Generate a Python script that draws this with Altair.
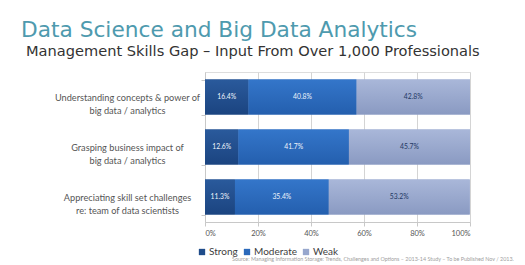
import altair as alt
import pandas as pd

# ---- data ----
categories = [
    "Understanding concepts & power of|big data / analytics",
    "Grasping business impact of|big data / analytics",
    "Appreciating skill set challenges|re: team of data scientists",
]
levels = ["Strong", "Moderate", "Weak"]
strong = [16.4, 12.6, 11.3]
moderate = [40.8, 41.7, 35.4]
weak = [42.8, 45.7, 53.2]
x_ticks = [0, 10, 20, 30, 40, 50, 60, 70, 80, 90, 100]
colors = ["#1f4c8a", "#2b69bb", "#97a7cd"]
gradient_stops = {
    "Strong": ("#2a5a9c", "#1b4480"),
    "Moderate": ("#3476ca", "#245fae"),
    "Weak": ("#a9b7d9", "#8a9ac2"),
}

title_text = "Data Science and Big Data Analytics"
subtitle_text = "Management Skills Gap \u2013 Input From Over 1,000 Professionals"
source_text = ("Source: Managing Information Storage: Trends, Challenges and Options \u2013 "
               "2013-14 Study \u2013 To be Published Nov / 2013.")

rows = []
for i, c in enumerate(categories):
    for j, (lev, vals) in enumerate(zip(levels, [strong, moderate, weak])):
        rows.append({"category": c, "level": lev, "order": j, "value": vals[i]})
df = pd.DataFrame(rows)

FONT = "Lato"

base = alt.Chart(df).transform_stack(
    stack="value", groupby=["category"], as_=["start", "end"],
    sort=[alt.SortField("order", order="ascending")],
).transform_calculate(
    mid="(datum.start + datum.end) / 2",
    label="format(datum.value, '.1f') + '%'",
)

y_enc = alt.Y(
    "category:N", sort=categories, title=None,
    scale=alt.Scale(paddingInner=0.3, paddingOuter=0.15),
    axis=alt.Axis(
        labelExpr="split(datum.label, '|')", labelFont=FONT, labelFontSize=9.2,
        labelColor="#555555", labelLineHeight=13, labelPadding=74,
        labelAlign="center",
        tickBand="extent", tickSize=4, tickColor="#c8c8c8",
        domainColor="#c8c8c8", grid=False,
    ),
)

x_scale = alt.Scale(domain=[0, 100], nice=False)

bars = base.mark_bar().encode(
    x=alt.X(
        "start:Q", title=None, scale=x_scale,
        axis=alt.Axis(
            values=x_ticks, labelExpr="datum.value + '%'", labelFont=FONT,
            labelFontSize=7.5, labelColor="#555555", tickColor="#c8c8c8",
            tickSize=4, domainColor="#c8c8c8", gridColor="#d4d4d4",
            labelPadding=3, labelOverlap=False,
        ),
    ),
    x2="end:Q",
    y=y_enc,
    color=alt.Color(
        "level:N", scale=alt.Scale(domain=levels, range=colors), title=None,
        legend=alt.Legend(
            orient="none", legendX=-8, legendY=175, direction="horizontal",
            symbolType="square", symbolSize=40, symbolStrokeWidth=0,
            labelFont=FONT, labelFontSize=10, labelColor="#404040",
            labelOffset=2, columnPadding=4, padding=0,
        ),
    ),
)

grad_layers = []
for lev in levels:
    top, bottom = gradient_stops[lev]
    grad_layers.append(
        base.transform_filter(alt.datum.level == lev).mark_bar(
            color=alt.LinearGradient(
                gradient="linear", x1=0, x2=0, y1=0, y2=1,
                stops=[alt.GradientStop(color=top, offset=0),
                       alt.GradientStop(color=bottom, offset=1)],
            )
        ).encode(
            x=alt.X("start:Q", scale=x_scale),
            x2="end:Q",
            y=alt.Y("category:N", sort=categories),
        )
    )

text = base.mark_text(font=FONT, fontSize=6.8).encode(
    x="mid:Q",
    y=alt.Y("category:N", sort=categories),
    text="label:N",
    color=alt.condition(alt.datum.level == "Weak", alt.value("#1f3864"), alt.value("#eef3fb")),
)

title = alt.Chart(pd.DataFrame({"t": [title_text]})).mark_text(
    font="DejaVu Sans", fontSize=21.7, color="#4e9aae", align="left", baseline="middle"
).encode(text="t:N", x=alt.value(-184), y=alt.value(-42))

subtitle = alt.Chart(pd.DataFrame({"t": [subtitle_text]})).mark_text(
    font="DejaVu Sans", fontSize=14.6, color="#333333", align="left", baseline="middle"
).encode(text="t:N", x=alt.value(-179), y=alt.value(-20))

source = alt.Chart(pd.DataFrame({"t": [source_text]})).mark_text(
    font=FONT, fontSize=5.4, color="#a0a0a0", align="left", baseline="middle"
).encode(text="t:N", x=alt.value(27), y=alt.value(187))

chart = alt.layer(bars, *grad_layers, text, title, subtitle, source).properties(
    width=265, height=150,
    autosize=alt.AutoSizeParams(type="none"),
    padding={"left": 205, "top": 72, "right": 55, "bottom": 43},
).configure_view(stroke=None).configure(background="white")

chart.save("out.html", embed_options={"renderer": "svg", "actions": False})
